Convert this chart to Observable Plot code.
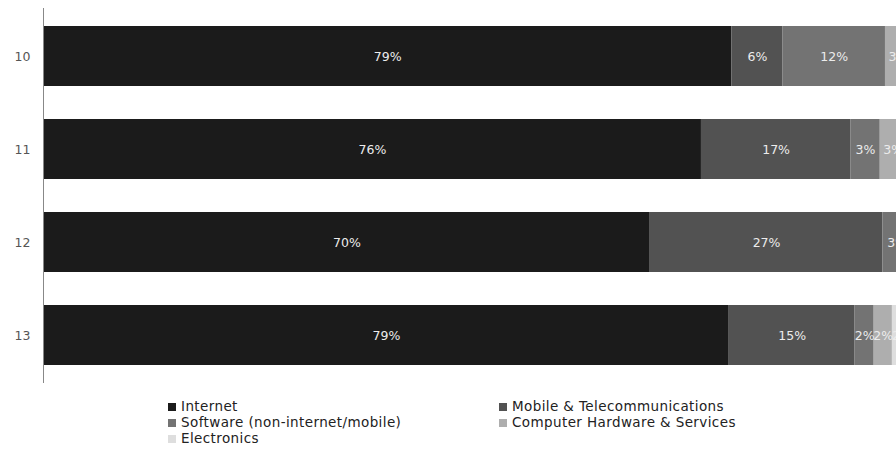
<!DOCTYPE html>
<html><head><meta charset="utf-8">
<script src="https://cdn.jsdelivr.net/npm/d3@7"></script>
<script src="https://cdn.jsdelivr.net/npm/@observablehq/plot@0.6"></script>
<style>
body{margin:0;background:#fff;font-family:"DejaVu Sans",sans-serif;}
#legend{position:relative;width:896px;height:65px;}
.item{position:absolute;font-size:13.5px;letter-spacing:0.4px;color:#222;line-height:16px;white-space:nowrap;}
.sw{display:inline-block;width:8px;height:8px;margin-right:5px;}
</style></head><body>
<div id="chart"></div><div id="legend"></div>
<script>
const years = ["10","11","12","13"];
const sectors = ["Internet","Mobile & Telecommunications","Software (non-internet/mobile)","Computer Hardware & Services","Electronics"];
const internet = [79.3, 75.8, 69.9, 79];
const mobile = [5.9, 17.2, 26.8, 14.5];
const software = [11.8, 3.4, 3.3, 2.2];
const hardware = [3, 3, 0, 2.1];
const electronics = [0, 0.6, 0, 2.2];
const colors = ["#1b1b1b","#525252","#737373","#aeaeae","#dedede"];

const series = [internet, mobile, software, hardware, electronics];
const data = [];
years.forEach((y,i)=>sectors.forEach((s,j)=>{ if(series[j][i]>0) data.push({year:y, sector:s, value:series[j][i]}); }));

const chart = Plot.plot({
  width: 896, height: 390,
  marginLeft: 43, marginRight: 0, marginTop: 8, marginBottom: 7,
  style: {fontFamily: "'DejaVu Sans', sans-serif", background: "#fff"},
  x: {domain: [0, 100], range: [43, 911], axis: null},
  y: {domain: years, range: [8, 383], paddingInner: 0.36, paddingOuter: 0.18, label: null},
  color: {domain: sectors, range: colors},
  marks: [
    Plot.barX(data, Plot.stackX({x: "value", y: "year", fill: "sector", z: "sector", order: sectors})),
    Plot.text(data, Plot.stackX({x: "value", y: "year", z: "sector", order: sectors,
      text: d => Math.round(d.value) + "%", fill: "#ececec", fontSize: 12.5})),
    Plot.axisY({tickSize: 0, tickPadding: 13, fontSize: 12.5, fill: "#555", label: null}),
    Plot.ruleX([0], {stroke: "#888"})
  ]
});
document.getElementById("chart").appendChild(chart);

const legendPos = [[168,406],[499,406],[168,422],[499,422],[168,438]];
const leg = document.getElementById("legend");
sectors.forEach((s,i)=>{
  const d = document.createElement("div");
  d.className = "item";
  d.style.left = legendPos[i][0] + "px";
  d.style.top = (legendPos[i][1] - 390 - 8) + "px";
  const sw = document.createElement("span");
  sw.className = "sw";
  sw.style.background = colors[i];
  d.appendChild(sw);
  d.appendChild(document.createTextNode(s));
  leg.appendChild(d);
});
</script>
</body></html>
